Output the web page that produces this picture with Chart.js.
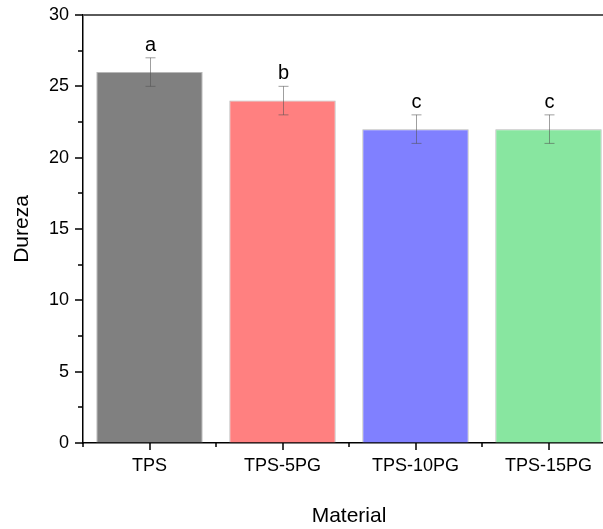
<!DOCTYPE html>
<html>
<head>
<meta charset="utf-8">
<script src="https://cdn.jsdelivr.net/npm/chart.js@4/dist/chart.umd.min.js"></script>
<style>
  html, body { margin: 0; padding: 0; background: #fff; overflow: hidden; }
  #wrap { width: 603px; height: 529px; overflow: hidden; }
</style>
</head>
<body>
<div id="wrap"><canvas id="dureza-chart" width="620" height="529"></canvas></div>
<script>
// data
const materials = ['TPS', 'TPS-5PG', 'TPS-10PG', 'TPS-15PG'];
const dureza = [26, 24, 22, 22];
const durezaErr = [1, 1, 1, 1];
const letters = ['a', 'b', 'c', 'c'];
const yMin = 0;
const yMax = 30;
const yStep = 2.5; // minor ticks, labels every 5

const FONT = 'Liberation Sans, Arial, sans-serif';

// error bars, letters, tick marks and the top frame line
const extras = {
    id: 'extras',
    afterDatasetsDraw(chart) {
        const ctx = chart.ctx;
        const x = chart.scales.x, y = chart.scales.y;
        ctx.save();
        dureza.forEach((v, i) => {
            const px = Math.round(x.getPixelForValue(i)) + 0.5;
            const top = y.getPixelForValue(v + durezaErr[i]);
            const bot = y.getPixelForValue(v - durezaErr[i]);
            ctx.strokeStyle = 'rgba(80,80,80,0.55)';
            ctx.lineWidth = 1;
            ctx.beginPath();
            ctx.moveTo(px, top); ctx.lineTo(px, bot);
            ctx.moveTo(px - 5, top); ctx.lineTo(px + 5, top);
            ctx.moveTo(px - 5, bot); ctx.lineTo(px + 5, bot);
            ctx.stroke();
            ctx.fillStyle = '#000';
            ctx.font = '20px ' + FONT;
            ctx.textAlign = 'center';
            ctx.textBaseline = 'alphabetic';
            ctx.fillText(letters[i], px, top - 7);
        });
        ctx.restore();
    },
    afterDraw(chart) {
        const ctx = chart.ctx;
        const x = chart.scales.x, y = chart.scales.y;
        const area = chart.chartArea;
        ctx.save();
        ctx.strokeStyle = '#000';
        ctx.lineWidth = 1.5;
        ctx.beginPath();
        for (let v = yMin; v <= yMax + 0.001; v += yStep) {
            const py = Math.round(y.getPixelForValue(v));
            const len = (v % 5 === 0) ? 8 : 5;
            ctx.moveTo(area.left - len, py);
            ctx.lineTo(area.left, py);
        }
        materials.forEach((m, i) => {
            const px = Math.round(x.getPixelForValue(i));
            ctx.moveTo(px, area.bottom);
            ctx.lineTo(px, area.bottom + 7);
            const bx = Math.round(x.getPixelForValue(i - 0.5));
            ctx.moveTo(bx, area.bottom);
            ctx.lineTo(bx, area.bottom + 4);
        });
        ctx.stroke();
        // frame line at the top
        ctx.strokeStyle = '#5a5a5a';
        ctx.lineWidth = 2;
        ctx.beginPath();
        ctx.moveTo(area.left, area.top);
        ctx.lineTo(area.right, area.top);
        ctx.stroke();
        ctx.restore();
    }
};

new Chart(document.querySelector('#dureza-chart').getContext('2d'), {
    type: 'bar',
    data: {
        labels: materials,
        datasets: [{
            label: 'Dureza',
            data: dureza,
            backgroundColor: ['#808080', '#ff8080', '#8080ff', '#88e6a0'],
            borderColor: 'rgba(175,175,175,0.9)',
            borderWidth: 1,
            barPercentage: 0.8,
            categoryPercentage: 1
        }]
    },
    options: {
        responsive: false,
        animation: false,
        layout: { padding: { top: 15, right: 5, bottom: 0, left: 0 } },
        plugins: {
            legend: { display: false },
            tooltip: { enabled: false }
        },
        scales: {
            x: {
                offset: true,
                grid: { display: true, drawOnChartArea: false, drawTicks: false },
                border: { display: true, color: '#000', width: 1.5 },
                ticks: { color: '#000', padding: 12, font: { family: FONT, size: 18 } },
                title: {
                    display: true, text: 'Material', color: '#000',
                    font: { family: FONT, size: 21 },
                    padding: { top: 0, bottom: 0 }
                },
                afterFit(scale) {
                    scale.height = 86;
                    scale.paddingLeft = 0; scale.paddingRight = 0;
                }
            },
            y: {
                min: yMin,
                max: yMax,
                grid: { display: true, drawOnChartArea: false, drawTicks: false },
                border: { display: true, color: '#000', width: 1.5 },
                ticks: {
                    stepSize: yStep,
                    color: '#000',
                    padding: 14,
                    font: { family: FONT, size: 18 },
                    callback: v => (v % 5 === 0 ? v : '')
                },
                title: {
                    display: true, text: 'Dureza', color: '#000',
                    font: { family: FONT, size: 21 },
                    padding: { top: 10, bottom: 0 }
                },
                afterFit(scale) {
                    scale.width = 83;
                    scale.paddingTop = 0; scale.paddingBottom = 0;
                }
            }
        }
    },
    plugins: [extras]
});
</script>
</body>
</html>
